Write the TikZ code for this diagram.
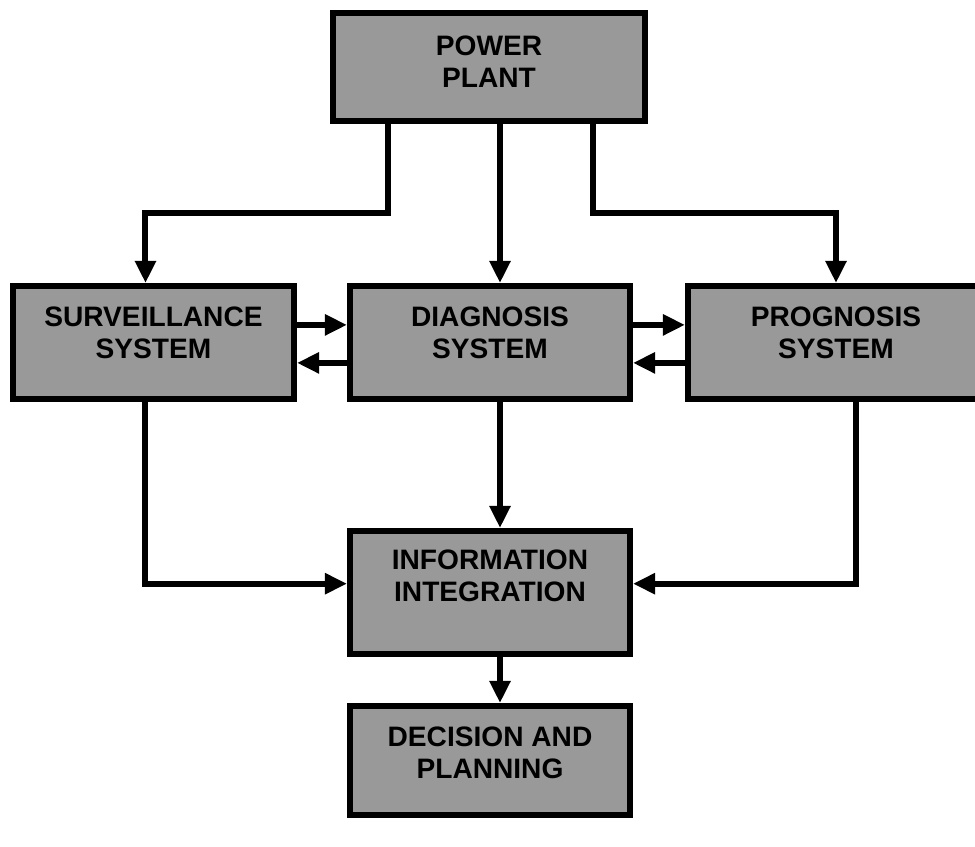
\documentclass[tikz,border=0pt]{standalone}
\usepackage{fontspec}
\setsansfont{Liberation Sans}
\usetikzlibrary{arrows.meta,calc}

\begin{document}
\begin{tikzpicture}[
      x=0.025cm, y=-0.025cm,
      mybox/.style = {rectangle, draw=black, line width=0.15cm, fill=black!40,
                      align=center, font=\sffamily\bfseries\fontsize{20}{23}\selectfont},
      flow/.style = {-{Triangle[length=0.55cm,width=0.5cm]}, line width=0.15cm}
      ]
      \useasboundingbox (0,0) rectangle (975,847);

      \node[mybox, minimum width=7.8cm, minimum height=2.7cm, text depth=0.25cm] (pp) at (489,67) {POWER\\PLANT};
      \node[mybox, minimum width=7.025cm, minimum height=2.825cm, text depth=0.5cm] (sv) at (153.5,342.5) {SURVEILLANCE\\SYSTEM};
      \node[mybox, minimum width=7cm, minimum height=2.825cm, text depth=0.5cm] (dg) at (490,342.5) {DIAGNOSIS\\SYSTEM};
      \node[mybox, minimum width=7.4cm, minimum height=2.825cm, text depth=0.5cm] (pg) at (836,342.5) {PROGNOSIS\\SYSTEM};
      \node[mybox, minimum width=7cm, minimum height=3.075cm, text depth=0.85cm] (ii) at (490,592.5) {INFORMATION\\INTEGRATION};
      \node[mybox, minimum width=7cm, minimum height=2.725cm, text depth=0.4cm] (dp) at (490,760.5) {DECISION AND\\PLANNING};

      % plant to the three systems
      \draw[flow] ([xshift=-2.525cm]pp.south) -- ++(0,89) -| ([xshift=-0.2cm]sv.north);
      \draw[flow] ([xshift=0.275cm]pp.south) -- ([xshift=0.275cm]pp.south |- dg.north);
      \draw[flow] ([xshift=2.6cm]pp.south) -- ++(0,89) -| (pg.north);

      % between the systems
      \draw[flow] ([yshift=0.44cm]sv.east) -- ([yshift=0.44cm]dg.west);
      \draw[flow] ([yshift=-0.51cm]dg.west) -- ([yshift=-0.51cm]sv.east);
      \draw[flow] ([yshift=0.44cm]dg.east) -- ([yshift=0.44cm]pg.west);
      \draw[flow] ([yshift=-0.51cm]pg.west) -- ([yshift=-0.51cm]dg.east);

      % into integration
      \draw[flow] ([xshift=-0.2cm]sv.south) |- ([yshift=0.22cm]ii.west);
      \draw[flow] ([xshift=0.25cm]dg.south) -- ([xshift=0.25cm]ii.north);
      \draw[flow] ([xshift=0.5cm]pg.south) |- ([yshift=0.22cm]ii.east);
      \draw[flow] ([xshift=0.25cm]ii.south) -- ([xshift=0.25cm]dp.north);
\end{tikzpicture}
\end{document}
